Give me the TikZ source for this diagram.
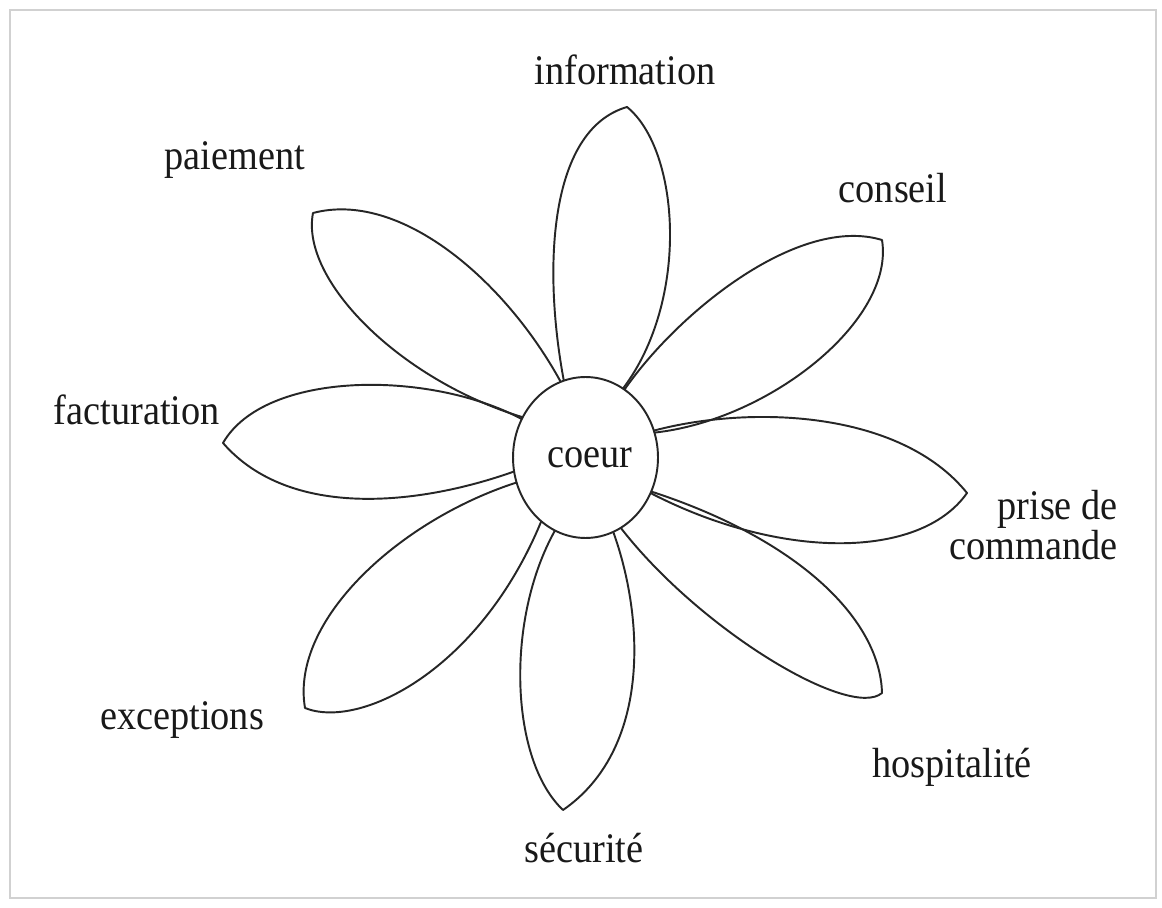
\documentclass[tikz,border=0pt]{standalone}
\usepackage{fontspec}
\usepackage{graphicx}
\setmainfont{Liberation Serif}
\usetikzlibrary{calc,shapes.geometric}
\newcommand{\vs}[1]{\scalebox{1}[1.1]{#1}}
\begin{document}
\begin{tikzpicture}[x=0.02cm,y=-0.02cm,
  petal/.style={draw=black!85, line width=1.1pt, line join=round},
  lbl/.style={font=\fontsize{21.8}{20.4}\selectfont, inner sep=0pt, text=black!90},
  heart/.style={ellipse, draw=black!85, line width=1.1pt, fill=white, minimum width=2.9cm, minimum height=3.22cm, inner sep=0pt},
  frame/.style={draw=black!18, line width=1.2pt}
]
\useasboundingbox[fill=white] (0,0) rectangle (1162,908);
\draw[frame] (10,10) rectangle (1156,898);

\coordinate (C) at (585.5,457.5);
% base points on the heart outline
\coordinate (pa) at ($(C)+(250:72.5 and 80.5)$);
\coordinate (pb) at ($(C)+(210:72.5 and 80.5)$);
\coordinate (ia) at ($(C)+(252.6:72.5 and 80.5)$);
\coordinate (ib) at ($(C)+(301.1:72.5 and 80.5)$);
\coordinate (ca) at ($(C)+(302.5:72.5 and 80.5)$);
\coordinate (cb) at ($(C)+(342:72.5 and 80.5)$);
\coordinate (ra) at ($(C)+(340.5:72.5 and 80.5)$);
\coordinate (rb) at ($(C)+(26.2:72.5 and 80.5)$);
\coordinate (ha) at ($(C)+(25:72.5 and 80.5)$);
\coordinate (hb) at ($(C)+(60.9:72.5 and 80.5)$);
\coordinate (sa) at ($(C)+(67.5:72.5 and 80.5)$);
\coordinate (sb) at ($(C)+(114.9:72.5 and 80.5)$);
\coordinate (ea) at ($(C)+(127.6:72.5 and 80.5)$);
\coordinate (eb) at ($(C)+(161.9:72.5 and 80.5)$);
\coordinate (fa) at ($(C)+(170:72.5 and 80.5)$);
\coordinate (fb) at ($(C)+(208.5:72.5 and 80.5)$);
% tips
\coordinate (pt) at (313,213);
\coordinate (it) at (627,107);
\coordinate (ct) at (882,240);
\coordinate (rt) at (967,493);
\coordinate (ht) at (882,693);
\coordinate (st) at (563,810);
\coordinate (et) at (305,708);
\coordinate (ft) at (223,443);

% petals
\draw[petal] (pa) .. controls (505,280) and (400,190) .. (pt) .. controls (300,280) and (400,380) .. (pb);
\draw[petal] (ia) .. controls (543,270) and (548,130) .. (it) .. controls (680,150) and (690,300) .. (ib);
\draw[petal] (ca) .. controls (680,310) and (800,215) .. (ct) .. controls (895,320) and (770,420) .. (cb);
\draw[petal] (ra) .. controls (750,405) and (900,410) .. (rt) .. controls (920,560) and (780,560) .. (rb);
\draw[petal] (ha) .. controls (800,540) and (880,620) .. (ht) .. controls (850,720) and (700,630) .. (hb);
\draw[petal] (sa) .. controls (645,620) and (650,750) .. (st) .. controls (510,760) and (505,620) .. (sb);
\draw[petal] (ea) .. controls (480,670) and (360,730) .. (et) .. controls (290,620) and (400,520) .. (eb);
\draw[petal] (fa) .. controls (420,505) and (290,520) .. (ft) .. controls (265,370) and (430,370) .. (fb);

% heart
\node[heart] (heart) at (C) {};
\node[lbl] (coeur) at (590,458) {\vs{coeur}};

% labels
\node[lbl] (information) at (625,70) {\vs{information}};
\node[lbl] (paiement) at (235,160) {\vs{paiement}};
\node[lbl] (conseil) at (893,188) {\vs{conseil}};
\node[lbl, anchor=east] (facturation) at (220,410) {\vs{facturation}};
\node[lbl, anchor=east, align=right] (prise) at (1118,525) {\vs{prise de}\\\vs{commande}};
\node[lbl] (exceptions) at (182,720) {\vs{exceptions}};
\node[lbl] (hospitalite) at (952,767) {\vs{hospitalité}};
\node[lbl] (securite) at (584,848) {\vs{sécurité}};
\end{tikzpicture}
\end{document}
